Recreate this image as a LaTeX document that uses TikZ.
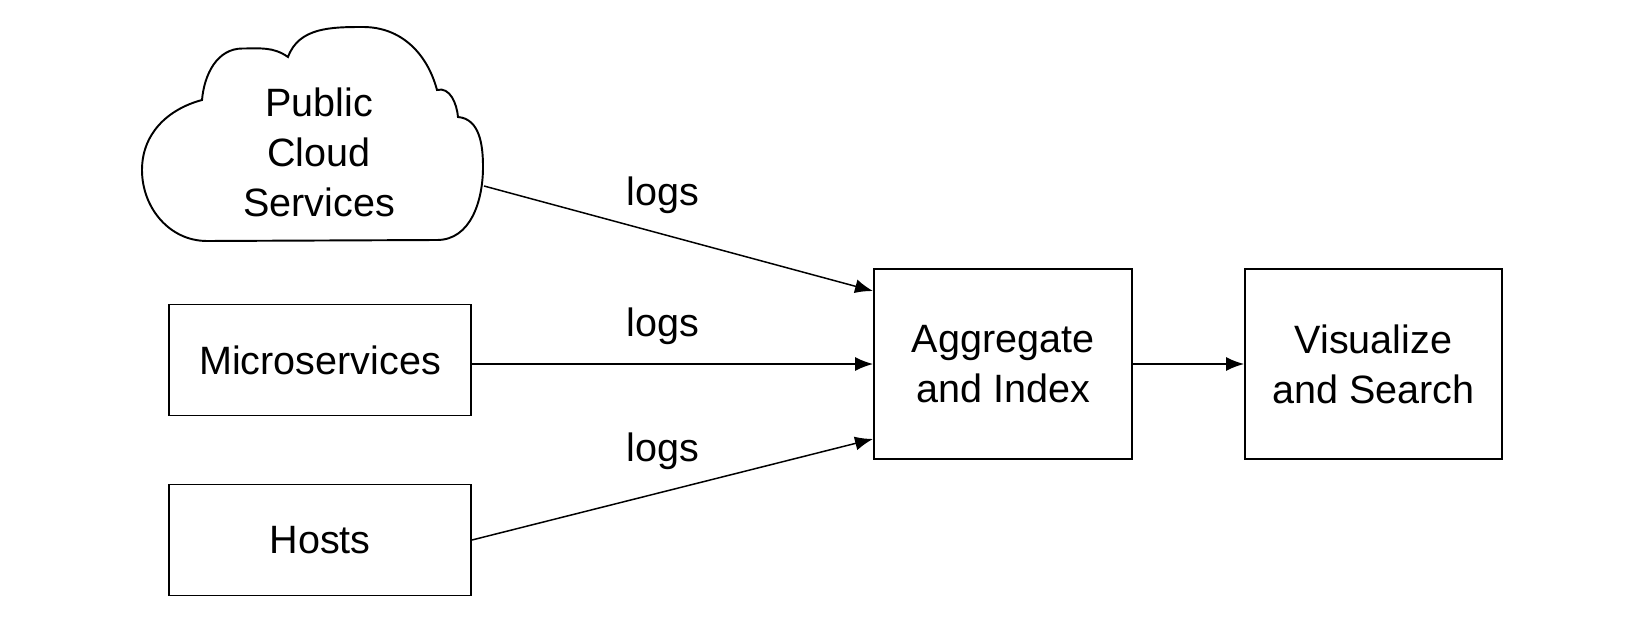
\documentclass[tikz,border=0pt]{standalone}
\usepackage{fontspec}
\setmainfont{Liberation Sans}
\usetikzlibrary{arrows.meta}

\begin{document}
\begin{tikzpicture}[
    every node/.style={font=\fontsize{22.5}{28.5}\selectfont},
    box/.style={draw, line width=1.1pt, minimum width=\W cm, align=center},
    flow/.style={line width=0.85pt, -{Latex[length=0.36cm,width=0.28cm]}}]
  \def\W{6.04} % width of the source boxes

  \useasboundingbox (0,0) rectangle (33,12.52);

  % --- cloud outline
  \draw[line width=1.1pt]
    (4.14,7.70) to[out=180,in=270] (2.84,9.12) to[out=90,in=195] (4.04,10.52)
    to[out=85,in=180] (4.85,11.55) to[out=0,in=145] (5.76,11.38)
    to[out=70,in=180] (7.26,11.98) to[out=0,in=105] (8.74,10.72)
    to[out=15,in=95] (9.16,10.18) to[out=-5,in=90] (9.66,9.18)
    to[out=270,in=0] (8.74,7.72) -- cycle;
  \node (cloud) at (6.38,9.48) [align=center] {Public\\Cloud\\Services};
  \coordinate (cloudR) at (9.68,8.80);

  % --- boxes
  \node[box, minimum height=2.22cm] (micro) at (6.4,5.32) {Microservices};
  \node[box, minimum height=2.22cm] (hosts) at (6.4,1.72) {Hosts};
  \node[box, minimum width=5.16cm, minimum height=3.8cm] (agg) at (20.06,5.24) {Aggregate\\and Index};
  \node[box, minimum width=5.14cm, minimum height=3.8cm] (vis) at (27.47,5.24) {Visualize\\and Search};

  % --- arrows
  \draw[flow] (cloudR) -- ([yshift=-0.46cm]agg.north west);
  \draw[flow] ([yshift=-0.08cm]micro.east) -- (agg.west);
  \draw[flow] (hosts.east) -- ([yshift=0.42cm]agg.south west);
  \draw[flow] (agg.east) -- (vis.west);

  % --- labels
  \node (l1) at (13.26,8.62) {logs};
  \node (l2) at (13.26,6.0) {logs};
  \node (l3) at (13.26,3.5) {logs};
\end{tikzpicture}
\end{document}
